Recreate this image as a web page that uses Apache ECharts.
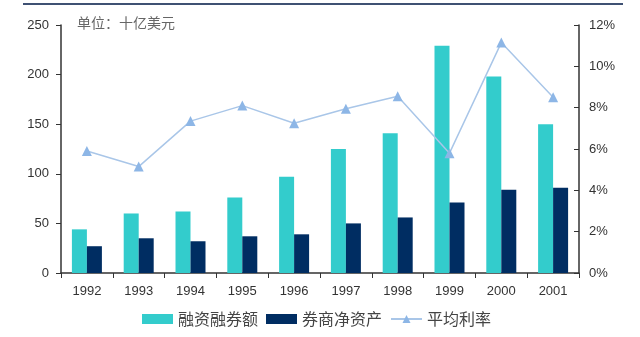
<!DOCTYPE html>
<html><head><meta charset="utf-8">
<script src="https://cdn.jsdelivr.net/npm/echarts@6/dist/echarts.min.js"></script>
<style>html,body{margin:0;padding:0;background:#fff}#c{width:640px;height:337px}</style>
</head><body><div id="c"></div>
<script>
const categories = ['1992','1993','1994','1995','1996','1997','1998','1999','2000','2001'];
const marginFinancing = [44, 60, 62, 76, 97, 125, 141, 229, 198, 150];
const brokerNetAssets = [27, 35, 32, 37, 39, 50, 56, 71, 84, 86];
const avgRate = [5.9, 5.15, 7.35, 8.1, 7.25, 7.95, 8.55, 5.8, 11.15, 8.5];
const seriesNames = ['融资融券额', '券商净资产', '平均利率'];
const unitText = '单位：十亿美元';

const chart = echarts.init(document.getElementById('c'));
const font = 'Arial, "Liberation Sans", sans-serif';
chart.setOption({
  animation: false,
  graphic: [
    {type: 'line', shape: {x1: 23, y1: 4, x2: 623, y2: 4}, style: {stroke: '#3F5173', lineWidth: 2}},
    {type: 'text', left: 77, top: 16, style: {text: unitText, fill: '#666', font: '14px "Noto Sans CJK SC"'}}
  ],
  grid: {left: 61, right: 61, top: 25, bottom: 64},
  legend: {
    bottom: 5, left: 137, itemGap: 8, itemWidth: 31, itemHeight: 10,
    textStyle: {fontFamily: '"Noto Sans CJK SC"', fontSize: 16, color: '#444'},
    data: [
      {name: seriesNames[0], icon: 'rect'},
      {name: seriesNames[1], icon: 'rect'},
      {name: seriesNames[2]}
    ]
  },
  xAxis: {
    type: 'category', data: categories,
    axisLine: {lineStyle: {color: '#333', width: 1.5}},
    axisTick: {show: true, alignWithLabel: false, length: 5, lineStyle: {color: '#333'}},
    axisLabel: {color: '#333', fontSize: 13, fontFamily: font, margin: 12}
  },
  yAxis: [
    {type: 'value', min: 0, max: 250, interval: 50,
     axisLine: {show: true, lineStyle: {color: '#333', width: 1.5}},
     axisTick: {show: true, length: 5, lineStyle: {color: '#333'}},
     splitLine: {show: false},
     axisLabel: {color: '#333', fontSize: 13, fontFamily: font, margin: 12}},
    {type: 'value', min: 0, max: 12, interval: 2, position: 'right',
     axisLine: {show: true, lineStyle: {color: '#333', width: 1.5}},
     axisTick: {show: true, inside: true, length: 5, lineStyle: {color: '#333'}},
     splitLine: {show: false},
     axisLabel: {color: '#333', fontSize: 13, fontFamily: font, margin: 10, formatter: '{value}%'}}
  ],
  series: [
    {name: seriesNames[0], type: 'bar', data: marginFinancing, barWidth: 15, barGap: '0%',
     itemStyle: {color: '#33CCCC'}},
    {name: seriesNames[1], type: 'bar', data: brokerNetAssets, barWidth: 15, barGap: '0%',
     itemStyle: {color: '#002D62'}},
    {name: seriesNames[2], type: 'line', yAxisIndex: 1, data: avgRate,
     symbol: 'triangle', symbolSize: 10,
     lineStyle: {color: '#A9C6E8', width: 1.5},
     itemStyle: {color: '#8DB6E6'}}
  ]
});
</script></body></html>
